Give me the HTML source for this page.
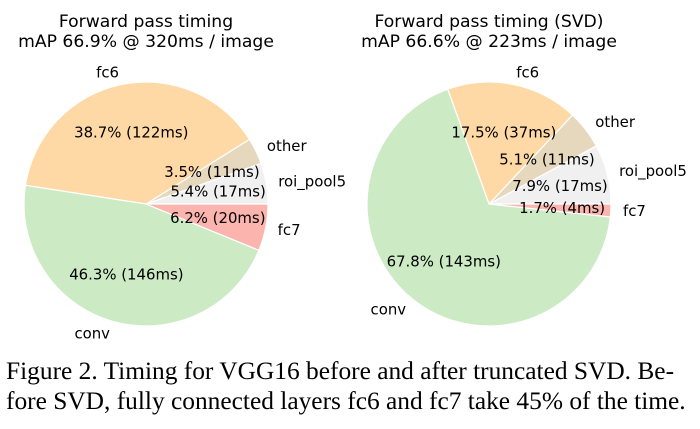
<!DOCTYPE html>
<html><head><meta charset="utf-8"><style>
body{margin:0;background:#fff;width:700px;height:429px;overflow:hidden}
svg text{font-family:"DejaVu Sans","Liberation Sans",sans-serif}
.cap{position:absolute;left:6px;top:356px;font-family:"Liberation Serif",serif;font-size:25.4px;line-height:30px;color:#000;white-space:nowrap}
</style></head><body>
<svg id="c" width="700" height="429" style="position:absolute;left:0;top:0"></svg>
<div class="cap">Figure 2. Timing for VGG16 before and after truncated SVD. Be-<br>fore SVD, fully connected layers fc6 and fc7 take 45% of the time.</div>
<script>
const labels = ["roi_pool5","other","fc6","conv","fc7"];
const beforePct = [5.4,3.5,38.7,46.3,6.2];
const beforeMs = [17,11,122,146,20];
const afterPct = [7.9,5.1,17.5,67.8,1.7];
const afterMs = [17,11,37,143,4];
const colors = ["#f0f0f0","#e5d8bd","#fed9a6","#ccebc5","#fbb4ae"];
const svg = document.getElementById('c');
const NS = 'http://www.w3.org/2000/svg';
function mk(tag, attrs, txt){const e=document.createElementNS(NS,tag);for(const k in attrs)e.setAttribute(k,attrs[k]);if(txt!==undefined)e.textContent=txt;svg.appendChild(e);return e;}
function pie(cx, cy, r, pct, ms, title1, title2, id){
  const t1 = mk('text',{x:cx,y:27,'text-anchor':'middle','font-size':17.2},title1);
  
  
  const t2 = mk('text',{x:cx,y:47,'text-anchor':'middle','font-size':17.2},title2);
  
  
  const tot = pct.reduce((a,b)=>a+b,0);
  let a0 = 0;
  const texts = [];
  pct.forEach((p,i)=>{
    const a1 = a0 + p/tot*2*Math.PI;
    const x0 = cx + r*Math.cos(a0), y0 = cy - r*Math.sin(a0);
    const x1 = cx + r*Math.cos(a1), y1 = cy - r*Math.sin(a1);
    const large = (a1-a0) > Math.PI ? 1 : 0;
    const path = mk('path',{d:`M${cx},${cy} L${x0},${y0} A${r},${r} 0 ${large} 0 ${x1},${y1} Z`,fill:colors[i],stroke:'#fff','stroke-width':1.2});
    
    
    texts.push([(a0+a1)/2, p, i]);
    a0 = a1;
  });
  texts.forEach(([am,p,i])=>{
    const lx = cx + 1.1*r*Math.cos(am), ly = cy - 1.1*r*Math.sin(am);
    const lt = mk('text',{x:lx,y:ly+5,'text-anchor':Math.cos(am)>=0?'start':'end','font-size':14.9},labels[i]);
    
    
    const px = cx + 0.6*r*Math.cos(am), py = cy - 0.6*r*Math.sin(am);
    const pt = mk('text',{x:px,y:py+5,'text-anchor':'middle','font-size':14.9},p.toFixed(1)+'% ('+ms[i]+'ms)');
    
    
  });
}
pie(146,204,122,beforePct,beforeMs,'Forward pass timing','mAP 66.9% @ 320ms / image','before');
pie(489,204,122,afterPct,afterMs,'Forward pass timing (SVD)','mAP 66.6% @ 223ms / image','after');
</script>
</body></html>
